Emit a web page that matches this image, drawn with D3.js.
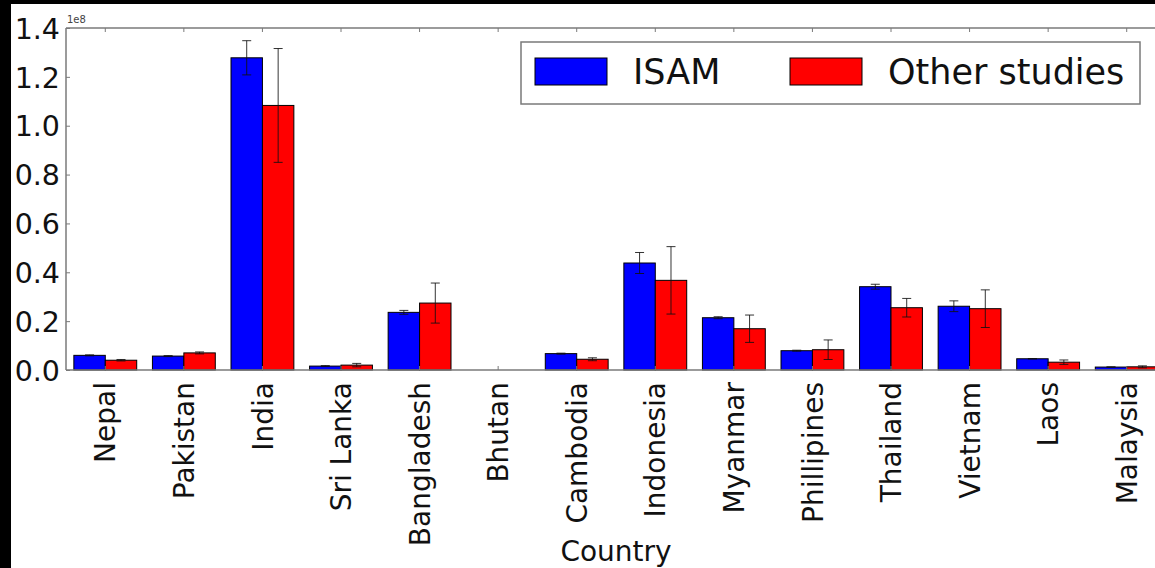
<!DOCTYPE html>
<html>
<head>
<meta charset="utf-8">
<script src="https://cdn.jsdelivr.net/npm/d3@7/dist/d3.min.js"></script>
<style>
  html, body { margin: 0; padding: 0; background: #000; }
  svg { display: block; }
  text { font-family: "DejaVu Sans", sans-serif; }
</style>
</head>
<body>
<svg id="chart" width="1155" height="568"></svg>
<script>
// Rice area estimates by country (values in hectares-equivalent units, scale 1e8)
const countries = ["Nepal", "Pakistan", "India", "Sri Lanka", "Bangladesh", "Bhutan",
  "Cambodia", "Indonesia", "Myanmar", "Phillipines", "Thailand", "Vietnam", "Laos", "Malaysia"];
const seriesNames = ["ISAM", "Other studies"];
const isamValues  = [6.0e6, 5.7e6, 1.278e8, 1.6e6, 2.36e7, 0, 6.7e6, 4.38e7, 2.14e7, 7.9e6, 3.41e7, 2.61e7, 4.6e6, 1.2e6];
const isamErrors  = [0.2e6, 0.2e6, 7.0e6, 0.2e6, 0.8e6, 0, 0.2e6, 4.3e6, 0.4e6, 0.2e6, 1.0e6, 2.2e6, 0.1e6, 0.1e6];
const otherValues = [4.0e6, 7.0e6, 1.083e8, 2.0e6, 2.74e7, 0, 4.4e6, 3.67e7, 1.69e7, 8.3e6, 2.55e7, 2.51e7, 3.2e6, 1.3e6];
const otherErrors = [0.3e6, 0.4e6, 2.33e7, 0.7e6, 8.2e6, 0, 0.6e6, 1.38e7, 5.6e6, 4.0e6, 3.8e6, 7.7e6, 0.9e6, 0.4e6];
const yTicks = [0, 0.2e8, 0.4e8, 0.6e8, 0.8e8, 1.0e8, 1.2e8, 1.4e8];
const colors = ["#0000ff", "#ff0000"];

const svg = d3.select("#chart");
const W = 1155, H = 568;

// figure background
svg.append("rect").attr("width", W).attr("height", H).attr("fill", "#000");
svg.append("rect").attr("x", 11).attr("y", 4).attr("width", W - 11).attr("height", H - 4).attr("fill", "#fff");

const mLeft = 66, mTop = 28, mBottom = 370, mRight = 1166;

const x = d3.scaleBand().domain(countries).range([mLeft, mRight]).paddingInner(0.2).paddingOuter(0.1);
const x1 = d3.scaleBand().domain(seriesNames).range([0, x.bandwidth()]);
const y = d3.scaleLinear().domain([0, 1.4e8]).range([mBottom, mTop]);

const rows = countries.map((c, i) => ({
  country: c,
  items: [
    { s: seriesNames[0], v: isamValues[i], e: isamErrors[i] },
    { s: seriesNames[1], v: otherValues[i], e: otherErrors[i] }
  ]
}));

const plot = svg.append("g");

// bars
const groups = plot.selectAll("g.grp").data(rows).join("g")
  .attr("class", "grp")
  .attr("transform", d => `translate(${x(d.country)},0)`);

groups.selectAll("rect").data(d => d.items).join("rect")
  .attr("x", d => x1(d.s))
  .attr("y", d => y(d.v))
  .attr("width", x1.bandwidth())
  .attr("height", d => y(0) - y(d.v))
  .attr("fill", (d, i) => colors[i])
  .attr("stroke", d => d.v > 0 ? "#000" : "none")
  .attr("stroke-width", 1);

// error bars
const eb = groups.selectAll("g.err").data(d => d.items.filter(it => it.v > 0)).join("g").attr("class", "err")
  .attr("stroke", "#111").attr("stroke-width", 1).attr("stroke-opacity", 0.85);
eb.append("line")
  .attr("x1", d => x1(d.s) + x1.bandwidth() / 2).attr("x2", d => x1(d.s) + x1.bandwidth() / 2)
  .attr("y1", d => y(d.v - d.e)).attr("y2", d => y(d.v + d.e));
[1, -1].forEach(sign => {
  eb.append("line")
    .attr("x1", d => x1(d.s) + x1.bandwidth() / 2 - 4.5).attr("x2", d => x1(d.s) + x1.bandwidth() / 2 + 4.5)
    .attr("y1", d => y(d.v + sign * d.e)).attr("y2", d => y(d.v + sign * d.e));
});

// spines
const spine = "#7a7a7a";
svg.append("line").attr("x1", mLeft).attr("x2", W).attr("y1", mTop).attr("y2", mTop).attr("stroke", spine).attr("stroke-width", 1.5);
svg.append("line").attr("x1", mLeft).attr("x2", W).attr("y1", mBottom).attr("y2", mBottom).attr("stroke", spine).attr("stroke-width", 1.5);
svg.append("line").attr("x1", mLeft).attr("x2", mLeft).attr("y1", mTop).attr("y2", mBottom).attr("stroke", spine).attr("stroke-width", 1.5);

// y axis (ticks inside)
const yAxis = svg.append("g").attr("transform", `translate(${mLeft},0)`)
  .call(d3.axisLeft(y).tickValues(yTicks).tickSizeInner(-4).tickSizeOuter(0).tickPadding(6)
    .tickFormat(d => (d / 1e8).toFixed(1)));
yAxis.select(".domain").remove();
yAxis.selectAll(".tick line").attr("stroke", spine);
yAxis.selectAll(".tick text").attr("font-size", 28.5).attr("fill", "#111")
  .attr("font-family", "DejaVu Sans, sans-serif").attr("dy", "0.36em");

// x axis (bottom labels, rotated; ticks inside top and bottom)
const xAxis = svg.append("g").attr("transform", `translate(0,${mBottom})`)
  .call(d3.axisBottom(x).tickSizeInner(-4).tickSizeOuter(0).tickPadding(0));
xAxis.select(".domain").remove();
xAxis.selectAll(".tick line").attr("stroke", spine);
xAxis.selectAll(".tick text")
  .attr("font-size", 28).attr("fill", "#111").attr("font-family", "DejaVu Sans, sans-serif")
  .attr("transform", "rotate(-90)")
  .attr("text-anchor", "end")
  .attr("x", -12).attr("y", 0).attr("dy", "0.36em");

const xTop = svg.append("g").attr("transform", `translate(0,${mTop})`)
  .call(d3.axisTop(x).tickSizeInner(-4).tickSizeOuter(0).tickFormat(""));
xTop.select(".domain").remove();
xTop.selectAll(".tick line").attr("stroke", spine);

// offset text
svg.append("text").attr("x", 67).attr("y", 23).attr("font-size", 10).attr("fill", "#444").text("1e8");

// x axis title
svg.append("text").attr("x", (mLeft + mRight) / 2).attr("y", 561).attr("text-anchor", "middle")
  .attr("font-size", 28).attr("fill", "#111").text("Country");

// legend
const lg = svg.append("g");
lg.append("rect").attr("x", 521).attr("y", 42).attr("width", 619).attr("height", 62)
  .attr("fill", "#fff").attr("stroke", spine).attr("stroke-width", 1.5);
const legendX = [535, 790];
seriesNames.forEach((s, i) => {
  lg.append("rect").attr("x", legendX[i]).attr("y", 58).attr("width", 72).attr("height", 27)
    .attr("fill", colors[i]).attr("stroke", "#000").attr("stroke-width", 1);
  lg.append("text").attr("x", legendX[i] + 98).attr("y", 84).attr("font-size", 35)
    .attr("fill", "#111").text(s);
});
</script>
</body>
</html>
